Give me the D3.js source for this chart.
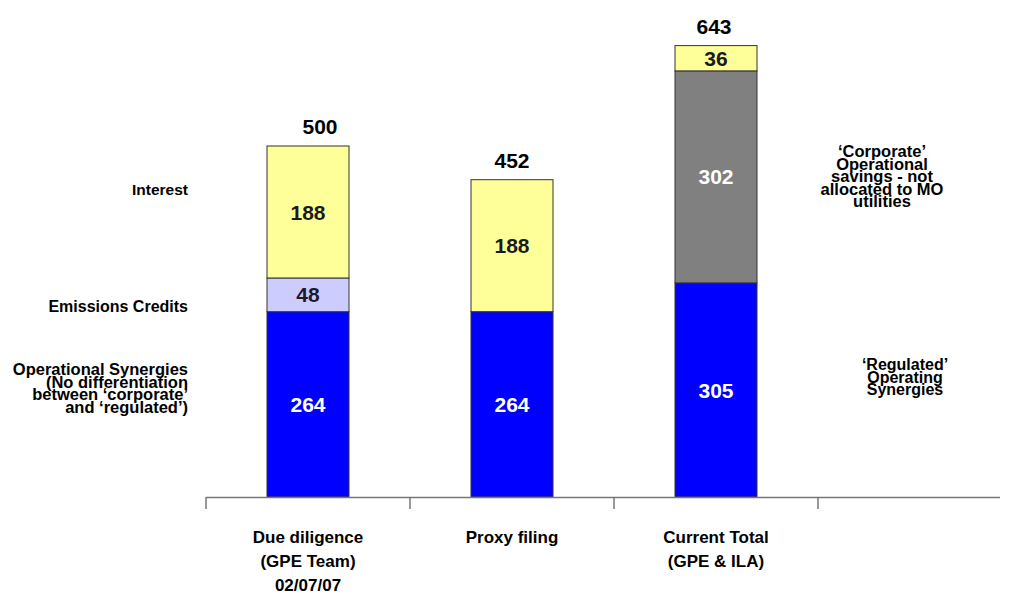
<!DOCTYPE html>
<html>
<head>
<meta charset="utf-8">
<script src="https://cdn.jsdelivr.net/npm/d3@7"></script>
<style>
  body { margin: 0; background: #fff; }
  text { font-family: "Liberation Sans", Arial, sans-serif; font-weight: bold; }
</style>
</head>
<body>
<div id="chart"></div>
<script>
var svgWidth = 1010;
var svgHeight = 599;

// data
var categories = ["Due diligence", "Proxy filing", "Current Total"];
var categoryLines = [["Due diligence", "(GPE Team)", "02/07/07"], ["Proxy filing"], ["Current Total", "(GPE & ILA)"]];
var segmentNames = ["Operational", "Emissions", "Corporate", "Interest"];
var operational = [264, 264, 305];
var emissions = [48, 0, 0];
var corporate = [0, 0, 302];
var interest = [188, 188, 36];
var totals = [500, 452, 643];

var colors = {
  Operational: "#0000ff",
  Emissions: "#ccccff",
  Corporate: "#808080",
  Interest: "#ffff99"
};
var labelColors = {
  Operational: "#ffffff",
  Emissions: "#1a1a2a",
  Corporate: "#ffffff",
  Interest: "#1a1a1a"
};

var svg = d3.select("#chart")
  .append("svg")
  .attr("width", svgWidth)
  .attr("height", svgHeight);

var baseY = 497;

var xScale = d3.scaleBand()
  .domain(categories)
  .range([206, 818]);

var barWidth = 82;

var yScale = d3.scaleLinear()
  .domain([0, 643])
  .range([baseY, baseY - 643 * 0.702]);

var rows = categories.map(function(c, i) {
  return {
    cat: c,
    Operational: operational[i],
    Emissions: emissions[i],
    Corporate: corporate[i],
    Interest: interest[i]
  };
});

var stacked = d3.stack().keys(segmentNames)(rows);

var barX = d => xScale(d.data.cat) + (xScale.bandwidth() - barWidth) / 2;

var layers = svg.selectAll(".layer")
  .data(stacked)
  .enter()
  .append("g")
  .attr("class", "layer");

layers.selectAll("rect")
  .data(function(s) { return s.map(d => Object.assign(d, {key: s.key})); })
  .enter()
  .filter(d => d[1] - d[0] > 0)
  .append("rect")
  .attr("x", barX)
  .attr("width", barWidth)
  .attr("y", d => yScale(d[1]))
  .attr("height", d => yScale(d[0]) - yScale(d[1]))
  .attr("fill", d => colors[d.key])
  .attr("stroke", "#333")
  .attr("stroke-width", 1);

layers.selectAll("text")
  .data(function(s) { return s; })
  .enter()
  .filter(d => d[1] - d[0] > 0)
  .append("text")
  .attr("x", d => barX(d) + barWidth / 2)
  .attr("y", d => (yScale(d[0]) + yScale(d[1])) / 2)
  .attr("dy", "0.36em")
  .attr("text-anchor", "middle")
  .attr("font-size", 21)
  .attr("fill", d => labelColors[d.key])
  .text(d => d[1] - d[0]);

// totals above bars
svg.selectAll(".total")
  .data(categories)
  .enter()
  .append("text")
  .attr("class", "total")
  .attr("x", (c, i) => xScale(c) + xScale.bandwidth() / 2 + [12, 0, -2][i])
  .attr("y", (c, i) => yScale(totals[i]) - 12)
  .attr("text-anchor", "middle")
  .attr("font-size", 21)
  .attr("fill", "#000")
  .text((c, i) => totals[i]);

// x axis line and ticks
svg.append("line")
  .attr("x1", 206).attr("x2", 1000)
  .attr("y1", baseY + 0.5).attr("y2", baseY + 0.5)
  .attr("stroke", "#777").attr("stroke-width", 1.5);

var tickPos = categories.map(c => xScale(c)).concat([xScale.range()[1]]);
svg.selectAll(".tick")
  .data(tickPos)
  .enter()
  .append("line")
  .attr("x1", d => d).attr("x2", d => d)
  .attr("y1", baseY).attr("y2", baseY + 12)
  .attr("stroke", "#777").attr("stroke-width", 1.5);

// category labels
categoryLines.forEach(function(lines, i) {
  var t = svg.append("text")
    .attr("x", xScale(categories[i]) + xScale.bandwidth() / 2)
    .attr("y", 543)
    .attr("text-anchor", "middle")
    .attr("font-size", 17)
    .attr("fill", "#000");
  lines.forEach(function(l, j) {
    t.append("tspan")
      .attr("x", xScale(categories[i]) + xScale.bandwidth() / 2)
      .attr("dy", j === 0 ? 0 : 24)
      .text(l);
  });
});

// side annotations (tightly stacked lines, as in the original slide)
function multiText(x, y, lines, anchor, lh, size) {
  var t = svg.append("text")
    .attr("x", x).attr("y", y)
    .attr("text-anchor", anchor)
    .attr("font-size", size)
    .attr("fill", "#000");
  lines.forEach(function(l, j) {
    t.append("tspan").attr("x", x).attr("dy", j === 0 ? 0 : lh).text(l);
  });
}

multiText(188, 195, ["Interest"], "end", 12, 15.5);
multiText(188, 312, ["Emissions Credits"], "end", 12, 16);
multiText(188, 375, ["Operational Synergies", "(No differentiation", "between \u2018corporate\u2019", "and \u2018regulated\u2019)"], "end", 12.5, 16.5);
multiText(882, 157, ["\u2018Corporate\u2019", "Operational", "savings - not", "allocated to MO", "utilities"], "middle", 12.5, 16.5);
multiText(905, 370, ["\u2018Regulated\u2019", "Operating", "Synergies"], "middle", 12.5, 16);
</script>
</body>
</html>
